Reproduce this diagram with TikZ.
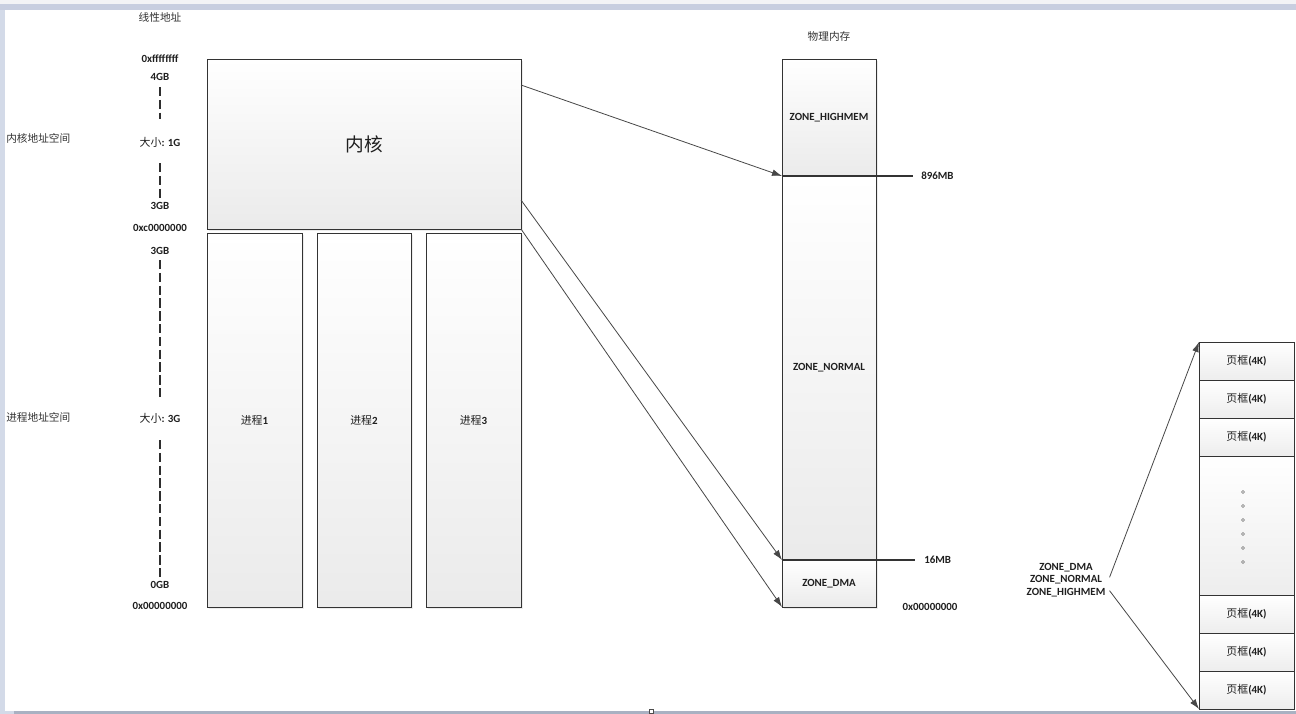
\documentclass[tikz,border=0pt]{standalone}
\usepackage{fontspec}
\setmainfont{Carlito}
\newfontfamily\cjk{Noto Sans CJK SC}
\usetikzlibrary{arrows.meta,calc,shadows}
\def\pxu{0.75pt}
\newcommand\zh[1]{{\cjk\mdseries #1}}

\definecolor{bandlight}{HTML}{F3F3F6}
\definecolor{bandblue}{HTML}{C8CEE0}
\definecolor{sideblue}{HTML}{D3DAE8}
\definecolor{bottomgray}{HTML}{A9B1C2}

\tikzset{
  lbl/.style={font=\fontsize{8.2}{9.4}\selectfont\bfseries, text=black!88, inner sep=0, align=center},
  cn/.style={font=\fontsize{8}{10}\selectfont\cjk, text=black!80, inner sep=0},
  blk/.style={draw=black!80, line width=0.7pt, inner sep=0, outer sep=0, anchor=north west,
              top color=white, bottom color=black!8,
              drop shadow={shadow xshift=1.6pt, shadow yshift=-1.6pt, opacity=0.15},
              font=\fontsize{8.2}{9.4}\selectfont\bfseries, text=black!88},
  frm/.style={draw=black!80, line width=0.7pt, inner sep=0, outer sep=0, anchor=north west,
              top color=white, bottom color=black!7,
              font=\fontsize{8.2}{9.4}\selectfont\bfseries, text=black!88,
              minimum width=95*\pxu},
  arr/.style={draw=black!72, line width=0.6pt, -{Latex[length=7.5pt,width=5pt]}},
  axis/.style={draw=black!82, line width=1.1pt, dash pattern=on 7pt off 2.6pt},
  mark line/.style={draw=black!80, line width=0.8pt},
}

\begin{document}
\begin{tikzpicture}[x=\pxu, y=-\pxu]
% canvas and window frame
\fill[white] (0,0) rectangle (1296,714);
\useasboundingbox (0,0) rectangle (1296,714);
\fill[bandlight] (0,0) rectangle (1296,4);
\fill[bandblue] (0,4) rectangle (1296,10);
\fill[sideblue] (0,10) rectangle (5,711);
\fill[bottomgray] (14,711) rectangle (1296,714);
\fill[sideblue] (0,711) rectangle (14,714);
\draw[black!70, line width=0.5pt, fill=white] (649,709.5) rectangle (653,713);

% linear address axis
\node[cn] (tlin) at (160,17) {线性地址};
\node[lbl] (a4g) at (160,59) {0xffffffff};
\node[lbl] (g4) at (160,77) {4GB};
\node[lbl] (s1) at (160,142) {\zh{大小}: 1G};
\node[lbl] (g3a) at (160,206) {3GB};
\node[lbl] (ac0) at (160,228) {0xc0000000};
\node[lbl] (g3b) at (160,251) {3GB};
\node[lbl] (s3) at (160,418) {\zh{大小}: 3G};
\node[lbl] (g0) at (160,585) {0GB};
\node[lbl] (a00) at (160,606) {0x00000000};
\draw[axis] (160,87) -- (160,119);
\draw[axis] (160,163) -- (160,198);
\draw[axis] (160,260) -- (160,398);
\draw[axis] (160,440) -- (160,579);

\node[cn, anchor=west] (kspace) at (6,138) {内核地址空间};
\node[cn, anchor=west] (pspace) at (6,417) {进程地址空间};

% kernel space and user processes
\node[blk, minimum width=314*\pxu, minimum height=170*\pxu,
      font=\fontsize{14}{16}\selectfont\cjk] (kern) at (207,59) {内核};
\node[blk, minimum width=95*\pxu, minimum height=374*\pxu] (p1) at (207,233) {\zh{进程}1};
\node[blk, minimum width=94*\pxu, minimum height=374*\pxu] (p2) at (317,233) {\zh{进程}2};
\node[blk, minimum width=95*\pxu, minimum height=374*\pxu] (p3) at (426,233) {\zh{进程}3};

% physical memory zones
\node[cn] (tphy) at (829,36) {物理内存};
\node[blk, minimum width=94*\pxu, minimum height=117*\pxu] (hi) at (782,59) {ZONE\_HIGHMEM};
\node[blk, minimum width=94*\pxu, minimum height=384*\pxu] (nor) at (782,176) {ZONE\_NORMAL};
\node[blk, minimum width=94*\pxu, minimum height=47*\pxu] (dma) at (782,560) {ZONE\_DMA};

\node[lbl, anchor=west] (m896) at (921,176) {896MB};
\node[lbl, anchor=west] (m16) at (924,560) {16MB};
\node[lbl] (p00) at (930,607) {0x00000000};
\draw[mark line] (hi.south west) -- ([xshift=-6pt]m896.west);
\draw[mark line] (dma.north west) -- ([xshift=-7pt]m16.west);

% kernel mapping
\draw[arr] ([yshift=-26*\pxu]kern.north east) -- (hi.south west);
\draw[arr] ([yshift=29*\pxu]kern.south east) -- (dma.north west);
\draw[arr] (kern.south east) -- (dma.south west);

% page frames
\node[frm, minimum height=38*\pxu] (f1) at (1199,342) {\zh{页框}(4K)};
\node[frm, minimum height=38*\pxu] (f2) at (1199,380) {\zh{页框}(4K)};
\node[frm, minimum height=38*\pxu] (f3) at (1199,418) {\zh{页框}(4K)};
\node[frm, minimum height=139*\pxu] (fdots) at (1199,456) {};
\node[frm, minimum height=38*\pxu] (f5) at (1199,595) {\zh{页框}(4K)};
\node[frm, minimum height=38*\pxu] (f6) at (1199,633) {\zh{页框}(4K)};
\node[frm, minimum height=38*\pxu] (f7) at (1199,671) {\zh{页框}(4K)};
\foreach \yy in {492,506,520,534,548,562}
  \draw[black!55, line width=0.4pt] (1243,\yy) circle (1.1pt);

\node[lbl] (zones) at (1066,580) {ZONE\_DMA\\ZONE\_NORMAL\\ZONE\_HIGHMEM};
\draw[arr] ([xshift=3pt,yshift=2pt]zones.east) -- (f1.north west);
\draw[arr] ([xshift=3pt,yshift=-8pt]zones.east) -- (f7.south west);
\end{tikzpicture}
\end{document}
